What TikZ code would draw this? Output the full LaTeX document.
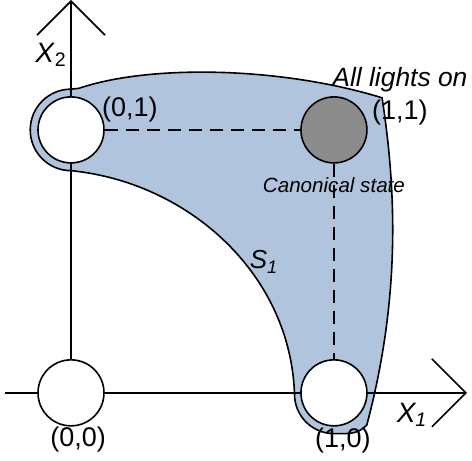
\documentclass[tikz,border=0pt]{standalone}
\usepackage{fontspec}
\setmainfont{Liberation Sans}
\usepackage{tikz}
\usetikzlibrary{arrows.meta,positioning}
\definecolor{cRegion}{RGB}{176,196,222}
\definecolor{cCanon}{RGB}{140,140,140}

\tikzset{
  corner/.style={circle,draw,fill=white,minimum size=33pt,inner sep=0pt},
  axisline/.style={-{Straight Barb[length=17pt,width=34pt]}},
  lbl/.style={font=\fontsize{13.5}{16}\selectfont,inner sep=0pt},
  small/.style={font=\fontsize{10.3}{12}\selectfont\itshape,inner sep=0pt},
}

\begin{document}
\begin{tikzpicture}[x=131.5pt,y=131.5pt,line width=0.8pt]
  \useasboundingbox (-0.270,-0.259) rectangle (1.525,1.494);
  % the set S_1 around the three states
  \filldraw[fill=cRegion] (0,0.845) arc[start angle=270,end angle=90,radius=0.155]
    -- (0.03,1.158) .. controls (0.3,1.25) and (0.8,1.24) .. (1.183,1.122)
    .. controls (1.24,0.75) and (1.25,0.35) .. (1.125,-0.122)
    .. controls (1.09,-0.16) and (1.05,-0.155) .. (1,-0.155)
    arc[start angle=270,end angle=180,radius=0.15]
    .. controls (0.835,0.45) and (0.45,0.80) .. (0,0.845) -- cycle;
  % axes
  \draw[axisline] (0,0) -- (0,1.494);
  \draw[axisline] (-0.251,0) -- (1.506,0);
  % the four states
  \node[corner] (c00) at (0,0) {};
  \node[corner] (c10) at (1,0) {};
  \node[corner] (c01) at (0,1) {};
  \node[corner,fill=cCanon] (c11) at (1,1) {};
  \draw[dash pattern=on 6.5pt off 4pt] (c01) -- (c11);
  \draw[dash pattern=on 6.5pt off 4pt] (c11) -- (c10);
  % labels
  \node[lbl] (l00) at (0.027,-0.179) {(0,0)};
  \node[lbl] (l10) at (1.034,-0.183) {(1,0)};
  \node[lbl] (l01) at (0.224,1.076) {(0,1)};
  \node[lbl] (l11) at (1.251,1.068) {(1,1)};
  \node[lbl,font=\fontsize{13.2}{16}\selectfont\itshape] (on) at (1.251,1.190) {All lights on};
  \node[small] (canon) at (1,0.791) {Canonical state};
  \node[lbl,font=\fontsize{13}{16}\selectfont\itshape] (s1) at (0.734,0.498) {S\textsubscript{1}};
  \node[lbl,font=\fontsize{14}{16}\selectfont\itshape] (x1) at (1.297,-0.084) {X\textsubscript{1}};
  \node[lbl,font=\fontsize{14}{16}\selectfont] (x2) at (-0.076,1.285) {\textit{X}\textsubscript{2}};
\end{tikzpicture}
\end{document}
